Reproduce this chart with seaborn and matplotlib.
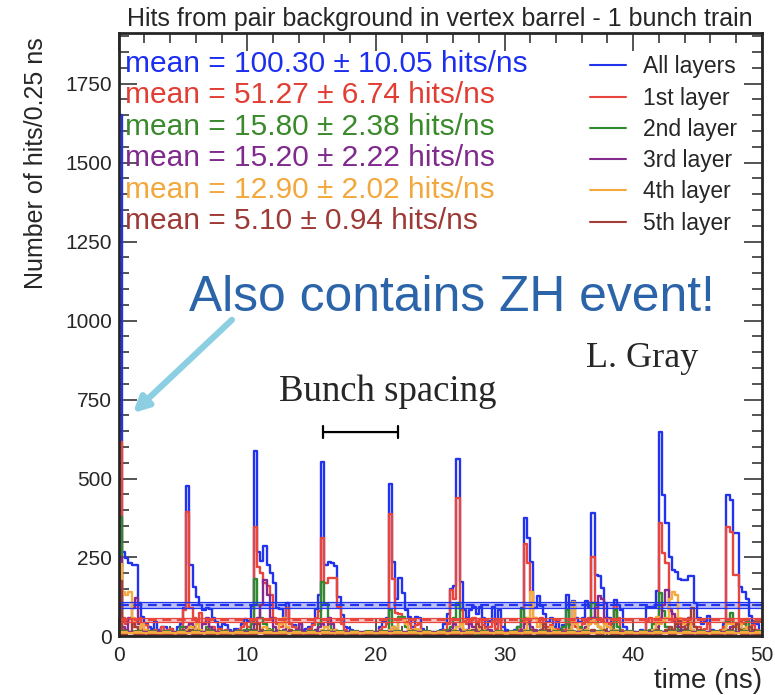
import numpy as np
import pandas as pd
import seaborn as sns
import matplotlib
matplotlib.use("Agg")
import matplotlib.pyplot as plt
from matplotlib.lines import Line2D
from matplotlib.ticker import MultipleLocator

# hits per 0.25 ns bin, 200 bins over 0-50 ns
all_layers = [
    1650, 268, 247, 232, 226, 226, 105, 63, 40, 30, 25, 45, 20, 31, 30, 10, 25, 12, 30, 40,
    90, 476, 226, 158, 126, 100, 84, 90, 88, 60, 45, 30, 40, 35, 20, 15, 25, 20, 40, 55,
    50, 95, 588, 268, 240, 286, 226, 200, 168, 90, 88, 60, 105, 40, 35, 25, 40, 20, 25, 30,
    40, 88, 131, 553, 226, 235, 232, 222, 126, 68, 31, 26, 21, 10, 8, 5, 10, 8, 12, 10,
    10, 30, 45, 60, 483, 237, 120, 184, 137, 84, 63, 31, 63, 60, 25, 15, 10, 8, 10, 15,
    20, 40, 70, 150, 160, 561, 173, 84, 60, 85, 94, 70, 94, 60, 30, 50, 94, 40, 84, 30,
    20, 15, 10, 20, 30, 90, 376, 313, 237, 90, 128, 95, 70, 45, 60, 30, 45, 25, 35, 131,
    35, 113, 60, 45, 60, 113, 94, 390, 195, 190, 152, 105, 60, 40, 115, 100, 84, 30, 15, 10,
    15, 10, 20, 15, 94, 94, 94, 144, 648, 448, 358, 252, 210, 205, 183, 178, 178, 191, 191, 105,
    60, 40, 50, 65, 20, 10, 10, 15, 40, 448, 432, 326, 326, 158, 142, 120, 65, 40, 40, 10,
]
layer_1 = [
    616, 60, 40, 55, 30, 45, 60, 20, 35, 10, 15, 20, 5, 31, 10, 20, 25, 10, 15, 20,
    84, 395, 90, 60, 50, 75, 40, 55, 20, 30, 15, 25, 10, 20, 15, 10, 15, 20, 30, 40,
    30, 50, 345, 221, 200, 170, 160, 130, 60, 40, 30, 45, 90, 40, 30, 25, 20, 15, 15, 25,
    35, 60, 80, 311, 168, 184, 184, 184, 94, 40, 20, 15, 8, 5, 5, 3, 5, 5, 8, 5,
    5, 20, 31, 40, 387, 182, 75, 70, 60, 45, 40, 20, 35, 40, 15, 10, 5, 5, 8, 10,
    10, 20, 40, 147, 120, 437, 84, 50, 40, 50, 60, 45, 55, 35, 20, 30, 50, 25, 50, 10,
    10, 10, 5, 10, 20, 50, 292, 232, 142, 60, 50, 60, 40, 30, 35, 20, 25, 15, 20, 40,
    20, 50, 30, 25, 40, 50, 60, 253, 105, 60, 50, 40, 40, 30, 100, 60, 20, 15, 10, 5,
    5, 5, 10, 8, 50, 60, 40, 60, 359, 263, 232, 84, 50, 60, 40, 55, 35, 60, 40, 30,
    30, 20, 25, 40, 15, 10, 10, 20, 30, 348, 330, 195, 195, 50, 40, 55, 30, 35, 20, 5,
]
layer_2 = [
    379, 20, 10, 15, 10, 5, 10, 5, 0, 0, 5, 10, 0, 0, 5, 0, 0, 5, 10, 30,
    31, 30, 40, 20, 10, 15, 10, 30, 20, 10, 5, 0, 5, 10, 5, 0, 0, 5, 10, 20,
    20, 40, 181, 100, 60, 40, 25, 20, 15, 10, 10, 5, 10, 15, 5, 0, 5, 10, 5, 5,
    10, 20, 40, 173, 104, 40, 20, 10, 5, 0, 0, 5, 0, 0, 0, 0, 0, 5, 0, 5,
    5, 5, 10, 15, 84, 30, 20, 63, 63, 30, 15, 10, 5, 5, 0, 0, 5, 0, 0, 0,
    5, 10, 20, 30, 60, 105, 40, 20, 15, 10, 10, 5, 10, 5, 5, 10, 5, 0, 5, 5,
    5, 0, 0, 5, 30, 88, 60, 40, 20, 10, 10, 5, 10, 5, 5, 5, 5, 10, 30, 84,
    20, 10, 10, 30, 15, 20, 40, 105, 60, 30, 20, 10, 10, 20, 84, 30, 10, 5, 5, 0,
    0, 0, 5, 5, 10, 20, 40, 60, 137, 80, 30, 20, 15, 30, 20, 10, 25, 40, 20, 10,
    5, 5, 5, 10, 5, 0, 0, 5, 20, 50, 74, 40, 30, 20, 25, 50, 20, 10, 5, 0,
]
layer_3 = [
    253, 30, 20, 60, 90, 121, 40, 20, 10, 5, 5, 0, 0, 5, 0, 0, 5, 10, 5, 10,
    20, 30, 40, 30, 20, 10, 40, 60, 30, 20, 10, 5, 0, 5, 0, 0, 0, 5, 10, 15,
    10, 20, 40, 60, 100, 180, 130, 60, 30, 20, 10, 20, 30, 15, 10, 20, 40, 10, 5, 10,
    10, 20, 30, 40, 30, 58, 40, 20, 10, 5, 0, 0, 0, 0, 0, 0, 0, 0, 0, 0,
    0, 0, 5, 10, 20, 30, 20, 10, 10, 5, 5, 0, 0, 0, 0, 0, 0, 0, 0, 0,
    0, 5, 10, 20, 40, 30, 20, 10, 20, 40, 30, 20, 10, 5, 10, 20, 10, 5, 0, 0,
    0, 0, 0, 0, 10, 20, 40, 50, 30, 20, 10, 20, 30, 15, 10, 5, 10, 5, 5, 10,
    20, 10, 5, 10, 20, 30, 40, 60, 90, 127, 120, 60, 30, 20, 10, 10, 5, 5, 0, 0,
    0, 0, 5, 5, 10, 15, 20, 30, 60, 100, 147, 80, 70, 40, 30, 20, 10, 5, 5, 10,
    5, 5, 10, 15, 10, 5, 0, 5, 10, 20, 30, 40, 30, 20, 15, 10, 10, 5, 5, 0,
]
layer_4 = [
    230, 140, 130, 140, 60, 30, 20, 40, 20, 10, 5, 5, 0, 5, 10, 5, 0, 5, 10, 5,
    10, 20, 30, 20, 40, 20, 10, 15, 10, 5, 5, 0, 0, 5, 0, 0, 5, 0, 5, 5,
    5, 10, 20, 15, 20, 30, 20, 10, 5, 10, 40, 60, 30, 20, 10, 5, 5, 0, 0, 5,
    5, 5, 10, 20, 30, 20, 15, 20, 10, 5, 0, 0, 0, 0, 5, 0, 0, 0, 0, 0,
    0, 0, 5, 10, 20, 30, 20, 55, 55, 40, 20, 10, 25, 20, 5, 5, 0, 0, 0, 0,
    0, 5, 5, 10, 20, 30, 40, 20, 10, 20, 10, 15, 30, 20, 10, 5, 5, 5, 0, 5,
    5, 0, 0, 0, 5, 10, 20, 60, 140, 60, 30, 40, 20, 10, 30, 20, 10, 5, 10, 10,
    20, 110, 40, 20, 10, 20, 40, 50, 40, 30, 20, 40, 30, 10, 20, 10, 5, 5, 0, 0,
    0, 0, 5, 10, 5, 10, 20, 63, 40, 50, 60, 120, 140, 130, 60, 40, 50, 45, 20, 10,
    10, 5, 10, 5, 0, 0, 5, 10, 20, 40, 40, 40, 30, 40, 20, 30, 20, 10, 5, 0,
]
layer_5 = [
    175, 20, 10, 15, 40, 30, 10, 5, 10, 5, 0, 0, 5, 0, 0, 0, 5, 0, 0, 5,
    5, 10, 20, 15, 5, 5, 10, 20, 10, 5, 0, 0, 0, 0, 0, 0, 0, 0, 5, 5,
    5, 10, 20, 40, 20, 10, 15, 10, 5, 5, 0, 5, 10, 20, 10, 5, 5, 0, 0, 0,
    0, 5, 10, 15, 10, 5, 5, 0, 0, 0, 0, 0, 0, 0, 0, 0, 0, 0, 0, 0,
    0, 0, 0, 5, 10, 5, 5, 10, 5, 5, 0, 0, 0, 0, 0, 0, 0, 0, 0, 0,
    0, 0, 0, 5, 10, 5, 10, 5, 5, 10, 20, 40, 30, 10, 5, 5, 0, 0, 0, 0,
    0, 0, 0, 0, 5, 10, 5, 10, 20, 10, 5, 20, 40, 20, 5, 5, 10, 5, 5, 5,
    10, 5, 5, 5, 10, 5, 10, 20, 10, 5, 10, 20, 10, 5, 5, 5, 0, 0, 0, 0,
    0, 0, 0, 0, 5, 5, 10, 20, 15, 10, 20, 30, 20, 40, 50, 30, 20, 60, 90, 30,
    20, 10, 5, 0, 0, 0, 0, 5, 10, 15, 20, 30, 40, 20, 10, 5, 30, 20, 5, 0,
]

layer_names = ['All layers', '1st layer', '2nd layer', '3rd layer', '4th layer', '5th layer']
means = [100.30, 51.27, 15.80, 15.20, 12.90, 5.10]
errors = [10.05, 6.74, 2.38, 2.22, 2.02, 0.94]

line_colors = ['#2233ee', '#e8453c', '#2f8a2f', '#86298f', '#f4aa3c', '#a43c37']
text_colors = ['#1c2ef0', '#e23d33', '#3a8a2c', '#7f2a8c', '#f2a83c', '#9e3a36']

series = [all_layers, layer_1, layer_2, layer_3, layer_4, layer_5]

bin_width = 0.25
centers = np.arange(len(all_layers)) * bin_width + bin_width / 2

sns.set_style('ticks')
plt.rcParams['font.family'] = ['Liberation Sans', 'DejaVu Sans']

fig = plt.figure(figsize=(7.75, 6.95), dpi=100)
ax = fig.add_axes([0.1532, 0.0842, 0.8297, 0.8683])

# step histograms, all layers first so the single layers sit on top
for counts, color in zip(series, line_colors):
    df = pd.DataFrame({'time': centers, 'hits': counts})
    sns.histplot(data=df, x='time', weights='hits', binwidth=bin_width, binrange=(0, 50),
                 element='step', fill=False, color=color, linewidth=1.7, ax=ax)

# mean +- error bands
for m, e, color in zip(means, errors, line_colors):
    ax.axhspan(m - e, m + e, color=color, alpha=0.3, lw=0)
    ax.axhline(m - e, color=color, lw=0.9)
    ax.axhline(m + e, color=color, lw=0.9)
    ax.axhline(m, color=color, lw=1.6, ls=(0, (4, 2.5)))

ax.set_xlim(0, 50)
ax.set_ylim(0, 1910)
ax.xaxis.set_major_locator(MultipleLocator(10))
ax.xaxis.set_minor_locator(MultipleLocator(2))
ax.yaxis.set_major_locator(MultipleLocator(250))
ax.yaxis.set_minor_locator(MultipleLocator(50))
ax.tick_params(which='both', direction='in', top=True, right=True, width=1.1, labelsize=15)
ax.tick_params(which='major', length=13)
ax.tick_params(which='minor', length=7)
ax.tick_params(axis='y', pad=5)
ax.tick_params(axis='x', pad=7)
for sp in ax.spines.values():
    sp.set_linewidth(2)

ax.set_title('Hits from pair background in vertex barrel - 1 bunch train',
             fontsize=18, pad=5)
ax.set_ylabel('Number of hits/0.25 ns', fontsize=18)
ax.yaxis.set_label_coords(-0.11, 0.785)
ax.set_xlabel('time (ns)', fontsize=20, loc='right', labelpad=2)

# mean values
row_y = 0.9486
for m, e, c in zip(means, errors, text_colors):
    ax.text(0.0098, row_y, f'mean = {m:.2f} ± {e:.2f} hits/ns', color=c,
            fontsize=21.5, va='center', ha='left', transform=ax.transAxes)
    row_y -= 0.0521

handles = [Line2D([], [], color=c, lw=1.5) for c in line_colors]
ax.legend(handles, layer_names, loc='upper left', bbox_to_anchor=(0.733, 0.963),
          frameon=False, fontsize=16.5, handlelength=1.55, handletextpad=0.75,
          labelspacing=0.36, borderpad=0, borderaxespad=0)

# annotations
ax.text(25.9, 1071, 'Also contains ZH event!', color='#2b64a9', fontsize=35.8,
        ha='center', va='center')
ax.annotate('', xy=(1.1, 707), xytext=(8.8, 1002),
            arrowprops=dict(arrowstyle='-|>,head_length=0.9,head_width=0.45',
                            color='#8dcfe2', lw=4.5, shrinkA=0, shrinkB=0))
ax.text(20.9, 774, 'Bunch spacing', fontsize=26.5, family='Liberation Serif',
        ha='center', va='center')
ax.annotate('', xy=(21.7, 647), xytext=(15.9, 647),
            arrowprops=dict(arrowstyle='|-|,widthA=0.45,widthB=0.45', color='black',
                            lw=1.6, shrinkA=0, shrinkB=0))
ax.text(40.7, 881, 'L. Gray', fontsize=26, family='Liberation Serif',
        ha='center', va='center')

fig.savefig('out.png', dpi=100)
